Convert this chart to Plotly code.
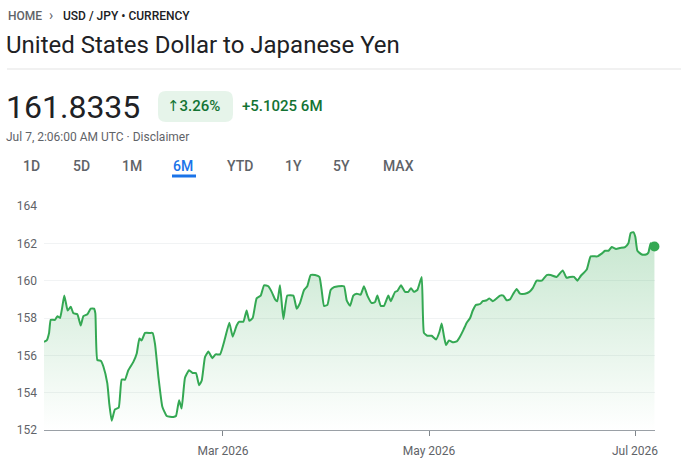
import plotly.graph_objects as go

# USD/JPY 6M series
dates = [
    "2026-01-07 00:00", "2026-01-07 19:00", "2026-01-08 12:00", "2026-01-09 00:00",
    "2026-01-10 06:00", "2026-01-10 23:00", "2026-01-11 18:00", "2026-01-12 08:00",
    "2026-01-13 00:00", "2026-01-13 12:00", "2026-01-14 00:00", "2026-01-14 22:00",
    "2026-01-15 17:00", "2026-01-16 21:00", "2026-01-17 21:00", "2026-01-18 16:00",
    "2026-01-19 20:00", "2026-01-20 20:00", "2026-01-21 19:00", "2026-01-22 05:00",
    "2026-01-22 19:00", "2026-01-23 21:00", "2026-01-24 14:00", "2026-01-25 18:00",
    "2026-01-26 08:00", "2026-01-27 01:00", "2026-01-28 00:00", "2026-01-29 03:00",
    "2026-01-30 00:00", "2026-01-31 00:00", "2026-01-31 23:00", "2026-02-02 11:00",
    "2026-02-03 11:00", "2026-02-04 06:00", "2026-02-04 22:00", "2026-02-05 22:00",
    "2026-02-07 09:00", "2026-02-08 04:00", "2026-02-08 21:00", "2026-02-09 21:00",
    "2026-02-11 01:00", "2026-02-12 08:00", "2026-02-14 07:00", "2026-02-15 02:00",
    "2026-02-16 00:00", "2026-02-16 18:00", "2026-02-17 18:00", "2026-02-18 23:00",
    "2026-02-20 00:00", "2026-02-21 00:00", "2026-02-21 22:00", "2026-02-22 17:00",
    "2026-02-23 16:00", "2026-02-24 16:00", "2026-02-25 20:00", "2026-02-26 20:00",
    "2026-02-28 03:00", "2026-03-01 14:00", "2026-03-02 21:00", "2026-03-03 21:00",
    "2026-03-05 01:00", "2026-03-05 20:00", "2026-03-07 01:00", "2026-03-08 00:00",
    "2026-03-08 19:00", "2026-03-09 19:00", "2026-03-10 23:00", "2026-03-12 04:00",
    "2026-03-13 04:00", "2026-03-14 10:00", "2026-03-15 10:00", "2026-03-16 10:00",
    "2026-03-17 02:00", "2026-03-17 21:00", "2026-03-18 21:00", "2026-03-20 01:00",
    "2026-03-21 20:00", "2026-03-22 20:00", "2026-03-23 19:00", "2026-03-25 00:00",
    "2026-03-25 23:00", "2026-03-26 23:00", "2026-03-28 06:00", "2026-03-29 13:00",
    "2026-03-30 05:00", "2026-03-30 22:00", "2026-03-31 22:00", "2026-04-01 21:00",
    "2026-04-02 21:00", "2026-04-04 04:00", "2026-04-05 20:00", "2026-04-06 15:00",
    "2026-04-07 15:00", "2026-04-08 14:00", "2026-04-09 14:00", "2026-04-10 18:00",
    "2026-04-11 18:00", "2026-04-12 18:00", "2026-04-14 01:00", "2026-04-15 00:00",
    "2026-04-15 17:00", "2026-04-16 17:00", "2026-04-17 16:00", "2026-04-18 23:00",
    "2026-04-19 16:00", "2026-04-20 23:00", "2026-04-21 15:00", "2026-04-22 17:00",
    "2026-04-23 22:00", "2026-04-24 21:00", "2026-04-25 16:00", "2026-04-26 13:00",
    "2026-04-27 13:00", "2026-04-28 20:00", "2026-04-29 12:00", "2026-04-30 12:00",
    "2026-05-01 19:00", "2026-05-03 02:00", "2026-05-04 02:00", "2026-05-04 18:00",
    "2026-05-05 11:00", "2026-05-06 01:00", "2026-05-06 22:00", "2026-05-08 00:00",
    "2026-05-09 05:00", "2026-05-10 04:00", "2026-05-11 04:00", "2026-05-12 04:00",
    "2026-05-13 04:00", "2026-05-13 23:00", "2026-05-14 22:00", "2026-05-16 03:00",
    "2026-05-16 22:00", "2026-05-18 02:00", "2026-05-18 21:00", "2026-05-19 21:00",
    "2026-05-21 01:00", "2026-05-22 01:00", "2026-05-23 00:00", "2026-05-24 00:00",
    "2026-05-25 00:00", "2026-05-25 23:00", "2026-05-26 23:00", "2026-05-27 23:00",
    "2026-05-29 10:00", "2026-05-30 17:00", "2026-05-31 17:00", "2026-06-01 21:00",
    "2026-06-03 09:00", "2026-06-04 20:00", "2026-06-06 01:00", "2026-06-07 19:00",
    "2026-06-09 14:00", "2026-06-10 18:00", "2026-06-11 18:00", "2026-06-12 23:00",
    "2026-06-13 22:00", "2026-06-14 22:00", "2026-06-16 17:00", "2026-06-17 21:00",
    "2026-06-19 20:00", "2026-06-21 03:00", "2026-06-22 03:00", "2026-06-23 03:00",
    "2026-06-24 02:00", "2026-06-25 09:00", "2026-06-26 13:00", "2026-06-28 01:00",
    "2026-06-29 01:00", "2026-06-29 17:00", "2026-06-30 12:00", "2026-07-01 02:00",
    "2026-07-01 17:00", "2026-07-03 00:00", "2026-07-04 06:00", "2026-07-04 23:00",
    "2026-07-05 15:00", "2026-07-06 18:00",
]
rates = [
    156.73, 156.8, 157.2, 157.9, 157.9, 158.1, 158.0, 158.5,
    159.2, 158.8, 158.4, 158.6, 158.25, 158.2, 157.6, 158.1,
    158.2, 158.5, 158.5, 158.25, 155.75, 155.7, 155.4, 154.5,
    153.4, 152.5, 153.1, 153.2, 154.7, 154.7, 155.2, 155.65,
    156.1, 156.9, 156.8, 157.2, 157.2, 157.2, 156.6, 154.85,
    153.25, 152.75, 152.7, 152.75, 153.6, 153.15, 154.8, 155.2,
    155.05, 155.05, 154.4, 154.65, 155.9, 156.2, 155.85, 156.05,
    156.05, 156.9, 157.75, 157.0, 157.6, 157.8, 157.8, 158.4,
    157.85, 158.0, 159.05, 159.2, 159.75, 159.7, 159.4, 159.0,
    158.9, 159.75, 157.95, 159.2, 159.2, 158.5, 158.8, 159.5,
    159.7, 160.3, 160.3, 160.2, 159.5, 158.65, 158.7, 159.5,
    159.65, 159.7, 159.7, 158.95, 158.65, 159.2, 159.3, 159.25,
    159.7, 159.2, 158.8, 158.85, 159.2, 158.65, 158.65, 159.2,
    158.9, 159.4, 159.45, 159.75, 159.4, 159.4, 159.6, 159.4,
    159.5, 160.2, 157.2, 157.05, 157.05, 156.85, 157.25, 157.7,
    157.0, 156.55, 156.8, 156.7, 156.75, 157.0, 157.35, 157.75,
    158.0, 158.4, 158.7, 158.75, 158.9, 158.95, 159.05, 158.9,
    159.05, 159.2, 159.2, 158.95, 159.0, 159.3, 159.55, 159.3,
    159.3, 159.4, 159.6, 160.0, 160.0, 160.3, 160.3, 160.2,
    160.55, 160.15, 160.2, 160.2, 160.0, 160.25, 160.6, 161.3,
    161.3, 161.45, 161.6, 161.6, 161.8, 161.7, 161.75, 161.8,
    162.0, 162.55, 162.6, 162.35, 161.6, 161.4, 161.4, 161.5,
    162.0, 161.8335,
]

y_ticks = [152, 154, 156, 158, 160, 162, 164]
x_tick_dates = ["2026-03-01", "2026-05-01", "2026-07-01"]
x_tick_labels = ["Mar 2026", "May 2026", "Jul 2026"]
tabs = ["1D", "5D", "1M", "6M", "YTD", "1Y", "5Y", "MAX"]
tab_x = [31, 81, 132, 183, 240, 293, 341, 398]

W, H = 681, 462
L, R, T, B = 44, 26, 206, 32
PW, PH = W - L - R, H - T - B
FONT = "Roboto, 'DejaVu Sans', sans-serif"
GREEN = "#34a853"


# page pixels -> paper coords
def X(px):
    return (px - L) / PW


def Y(py):
    return (H - B - py) / PH


def text(s, px, py, size, color, xanchor="left", weight=400):
    return dict(text=s, x=X(px), y=Y(py), xref="paper", yref="paper",
                xanchor=xanchor, yanchor="middle", showarrow=False,
                font=dict(family=FONT, size=size, color=color, weight=weight))


def rounded_rect(x0, y0, x1, y1, r):
    pts = [("M", x0 + r, y0), ("L", x1 - r, y0), ("Q", x1, y0, x1, y0 + r),
           ("L", x1, y1 - r), ("Q", x1, y1, x1 - r, y1), ("L", x0 + r, y1),
           ("Q", x0, y1, x0, y1 - r), ("L", x0, y0 + r), ("Q", x0, y0, x0 + r, y0)]
    out = []
    for p in pts:
        cmd, coords = p[0], p[1:]
        xy = []
        for i in range(0, len(coords), 2):
            xy.append(f"{X(coords[i]):.5f},{Y(coords[i + 1]):.5f}")
        out.append(cmd + " " + " ".join(xy))
    return " ".join(out) + " Z"


fig = go.Figure()
fig.add_trace(go.Scatter(
    x=dates, y=rates, mode="lines",
    line=dict(color=GREEN, width=2, shape="spline", smoothing=0.4),
    fill="tozeroy",
    fillgradient=dict(type="vertical", start=152, stop=max(rates),
                      colorscale=[[0, "rgba(52,168,83,0)"], [1, "rgba(52,168,83,0.28)"]]),
    hoverinfo="skip",
))
fig.add_trace(go.Scatter(
    x=[dates[-1]], y=[rates[-1]], mode="markers",
    marker=dict(color=GREEN, size=10), cliponaxis=False, hoverinfo="skip",
))

annotations = [
    text("HOME", 6, 16, 12, "#5f6368", weight=500),
    text("›", 47, 15, 14, "#5f6368"),
    text("USD / JPY • CURRENCY", 61, 16, 12, "#202124", weight=500),
    text("United States Dollar to Japanese Yen", 4, 45, 24, "#202124"),
    text("161.8335", 4, 107, 32, "#202124"),
    text("↑3.26%", 165, 106, 15, "#137333", weight=500),
    text("+5.1025 6M", 240, 106, 15, "#137333", weight=500),
    text("Jul 7, 2:06:00 AM UTC · Disclaimer", 4, 137, 12, "#5f6368"),
]
for name, cx in zip(tabs, tab_x):
    color = "#1a73e8" if name == "6M" else "#5f6368"
    annotations.append(text(name, cx, 166, 14, color, xanchor="center", weight=500))

shapes = [
    dict(type="line", xref="paper", yref="paper", x0=X(7), x1=X(W), y0=Y(69), y1=Y(69),
         line=dict(color="#e3e3e3", width=1)),
    dict(type="path", xref="paper", yref="paper", path=rounded_rect(158, 91, 233, 122, 8),
         fillcolor="#e6f4ea", line=dict(width=0), layer="below"),
    dict(type="line", xref="paper", yref="paper", x0=X(172), x1=X(196), y0=Y(176), y1=Y(176),
         line=dict(color="#1a73e8", width=3)),
]

fig.update_layout(
    width=W, height=H,
    margin=dict(l=L, r=R, t=T, b=B),
    paper_bgcolor="white", plot_bgcolor="white",
    showlegend=False,
    font=dict(family=FONT),
    annotations=annotations,
    shapes=shapes,
    xaxis=dict(type="date", range=["2026-01-07 00:00", "2026-07-06 22:00"], automargin=False,
               showgrid=False, zeroline=False, showline=True, linecolor="#9aa0a6",
               ticks="outside", ticklen=5, tickcolor="#80868b", ticklabelstandoff=5,
               tickvals=x_tick_dates, ticktext=x_tick_labels,
               tickfont=dict(size=12, color="#5f6368"), fixedrange=True),
    yaxis=dict(range=[152, 164], tickvals=y_ticks, automargin=False,
               showgrid=True, gridcolor="#f1f3f4",
               zeroline=False, showline=False, ticks="", ticklabelstandoff=6,
               tickfont=dict(size=12, color="#5f6368"), fixedrange=True),
)

# drop the default body margin so the figure sits flush in the window
fig.write_html("out.html", config={"displayModeBar": False},
               post_script="document.body.style.margin='0';document.body.style.overflow='hidden';")
